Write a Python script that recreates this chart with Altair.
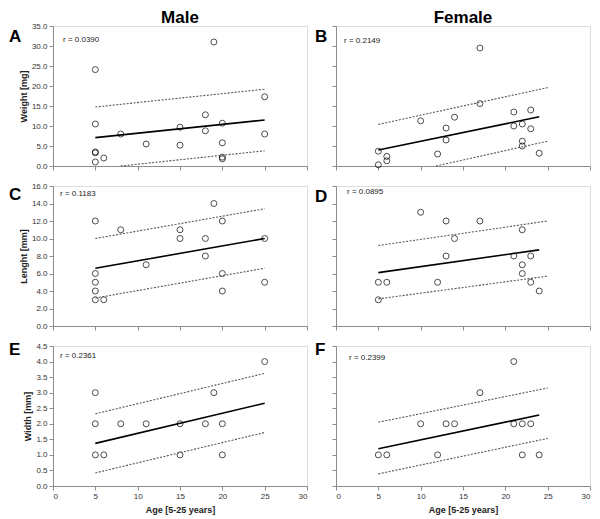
import altair as alt
import pandas as pd

FONT = "Liberation Sans"

# ---------------- data ----------------
x_ticks = [0, 5, 10, 15, 20, 25, 30]

# A: Male weight
a_age = [5, 5, 5, 5, 5, 6, 8, 11, 15, 15, 18, 18, 19, 20, 20, 20, 20, 25, 25]
a_val = [24.1, 10.5, 3.5, 3.3, 1.0, 2.0, 8.0, 5.5, 9.7, 5.2, 12.8, 8.8, 31.0, 10.7, 5.8, 2.2, 1.8, 17.3, 8.0]
a_fit = ([5, 25], [7.1, 11.5])
a_up = ([5, 25], [14.75, 19.2])
a_lo = ([8, 25], [0.0, 3.8])

# B: Female weight
b_age = [5, 5, 6, 6, 10, 12, 13, 13, 14, 17, 17, 21, 21, 22, 22, 22, 23, 23, 24]
b_val = [3.7, 0.3, 2.4, 1.3, 11.3, 3.0, 9.5, 6.5, 12.2, 29.5, 15.6, 13.5, 10.0, 10.5, 6.2, 5.0, 14.0, 9.3, 3.2]
b_fit = ([5, 24], [4.0, 12.3])
b_up = ([5, 25], [10.4, 19.6])
b_lo = ([11.8, 25], [0.0, 6.2])
w_ticks = [0, 5, 10, 15, 20, 25, 30, 35]

# C: Male length
c_age = [5, 5, 5, 5, 5, 6, 8, 11, 15, 15, 18, 18, 19, 20, 20, 20, 25, 25]
c_val = [12, 6, 5, 4, 3, 3, 11, 7, 11, 10, 10, 8, 14, 12, 6, 4, 10, 5]
c_fit = ([5, 25], [6.6, 10.0])
c_up = ([5, 25], [10.0, 13.4])
c_lo = ([5, 25], [3.2, 6.6])

# D: Female length
d_age = [5, 5, 6, 10, 12, 13, 13, 14, 17, 21, 22, 22, 22, 23, 23, 24]
d_val = [5, 3, 5, 13, 5, 12, 8, 10, 12, 8, 11, 7, 6, 8, 5, 4]
d_fit = ([5, 24], [6.1, 8.7])
d_up = ([5, 25], [9.2, 12.0])
d_lo = ([5, 25], [3.1, 5.7])
l_ticks = [0, 2, 4, 6, 8, 10, 12, 14, 16]

# E: Male width
e_age = [5, 5, 5, 6, 8, 11, 15, 15, 18, 19, 20, 20, 25]
e_val = [3, 2, 1, 1, 2, 2, 2, 1, 2, 3, 2, 1, 4]
e_fit = ([5, 25], [1.37, 2.66])
e_up = ([5, 25], [2.32, 3.62])
e_lo = ([5, 25], [0.42, 1.72])

# F: Female width
f_age = [5, 6, 10, 12, 13, 14, 17, 21, 21, 22, 22, 23, 24]
f_val = [1, 1, 2, 1, 2, 2, 3, 4, 2, 2, 1, 2, 1]
f_fit = ([5, 24], [1.2, 2.28])
f_up = ([5, 25], [2.05, 3.15])
f_lo = ([5, 25], [0.39, 1.53])
wd_ticks = [0, 0.5, 1.0, 1.5, 2.0, 2.5, 3.0, 3.5, 4.0, 4.5]

r_texts = ["r = 0.0390", "r = 0.2149", "r = 0.1183", "r = 0.0895", "r = 0.2361", "r = 0.2399"]
col_titles = ["Male", "Female"]


def panel(ages, vals, fit, up, lo, yticks, ytitle, letter, rtext, width, height,
          show_ylabels, show_xlabels, letter_x, letter_y, r_x, r_y, title=None):
    pts = pd.DataFrame({"age": ages, "val": vals})
    fit_df = pd.DataFrame({"age": fit[0], "val": fit[1]})
    band_df = pd.DataFrame({
        "age": up[0] + lo[0],
        "val": up[1] + lo[1],
        "k": ["up", "up", "lo", "lo"],
    })
    xscale = alt.Scale(domain=[0, 30], nice=False)
    yscale = alt.Scale(domain=[yticks[0], yticks[-1]], nice=False)
    xaxis = alt.Axis(values=x_ticks, grid=False, labels=show_xlabels, format="d",
                     labelOverlap=False,
                     title="Age [5-25 years]" if show_xlabels else None,
                     domainColor="#8c8c8c", tickColor="#8c8c8c", tickSize=4,
                     labelFont=FONT, labelFontSize=8, labelColor="#333333", labelPadding=2,
                     titleFont=FONT, titleFontSize=9, titleFontWeight="bold",
                     titleColor="#222222", titlePadding=5)
    yaxis = alt.Axis(values=yticks, grid=False, labels=show_ylabels, format=".1f",
                     labelOverlap=False, labelFlush=False,
                     title=ytitle if show_ylabels else None,
                     domainColor="#8c8c8c", tickColor="#8c8c8c", tickSize=4,
                     labelFont=FONT, labelFontSize=8, labelColor="#333333", labelPadding=2,
                     titleFont=FONT, titleFontSize=9, titleFontWeight="bold",
                     titleColor="#222222", titlePadding=3)
    X = alt.X("age:Q", scale=xscale, axis=xaxis)
    Y = alt.Y("val:Q", scale=yscale, axis=yaxis)

    points = alt.Chart(pts).mark_point(shape="circle", filled=False, color="black",
                                       size=36, strokeWidth=1).encode(x=X, y=Y)
    fitl = alt.Chart(fit_df).mark_line(color="black", strokeWidth=1.6).encode(x=X, y=Y)
    band = alt.Chart(band_df).mark_line(color="#555555", strokeWidth=1.1,
                                        strokeDash=[2, 1.5]).encode(x=X, y=Y, detail="k:N")
    rlab = alt.Chart(pd.DataFrame({"t": [rtext]})).mark_text(
        align="left", baseline="middle", font=FONT, fontSize=8, color="#222222").encode(
        x=alt.value(r_x), y=alt.value(r_y), text="t:N")
    let = alt.Chart(pd.DataFrame({"t": [letter]})).mark_text(
        align="left", baseline="alphabetic", font=FONT, fontSize=17, fontWeight="bold",
        color="black").encode(x=alt.value(letter_x), y=alt.value(letter_y), text="t:N")
    layers = [points, band, fitl, rlab, let]
    if title:
        tt = alt.Chart(pd.DataFrame({"t": [title]})).mark_text(
            align="center", baseline="alphabetic", font=FONT, fontSize=17,
            fontWeight="bold", color="black").encode(
            x=alt.value(width / 2), y=alt.value(-3), text="t:N")
        layers.append(tt)
    return alt.layer(*layers).properties(width=width, height=height)


W, H = 254, 140
pA = panel(a_age, a_val, a_fit, a_up, a_lo, w_ticks, "Weight [mg]", "A", r_texts[0],
           W, H, True, False, -44, 16, 10, 14, title=col_titles[0])
pB = panel(b_age, b_val, b_fit, b_up, b_lo, w_ticks, "", "B", r_texts[1],
           W, H, False, False, -21, 16, 8, 15, title=col_titles[1])
pC = panel(c_age, c_val, c_fit, c_up, c_lo, l_ticks, "Lenght [mm]", "C", r_texts[2],
           W, H, True, False, -44, 14, 7, 8)
pD = panel(d_age, d_val, d_fit, d_up, d_lo, l_ticks, "", "D", r_texts[3],
           W, H, False, False, -21, 16, 11, 6)
pE = panel(e_age, e_val, e_fit, e_up, e_lo, wd_ticks, "Width [mm]", "E", r_texts[4],
           W, H, True, True, -44, 9, 7, 10)
pF = panel(f_age, f_val, f_fit, f_up, f_lo, wd_ticks, "", "F", r_texts[5],
           W, H, False, True, -21, 9, 13, 12)

chart = alt.concat(pA, pB, pC, pD, pE, pF, columns=2,
                   spacing={"row": 20, "column": 29}, bounds="flush").resolve_scale(
    x="independent", y="independent").configure_view(stroke="#8c8c8c", strokeWidth=1
).configure(background="white").properties(padding=0)

chart.save("out.html", embed_options={"renderer": "svg", "actions": False})
